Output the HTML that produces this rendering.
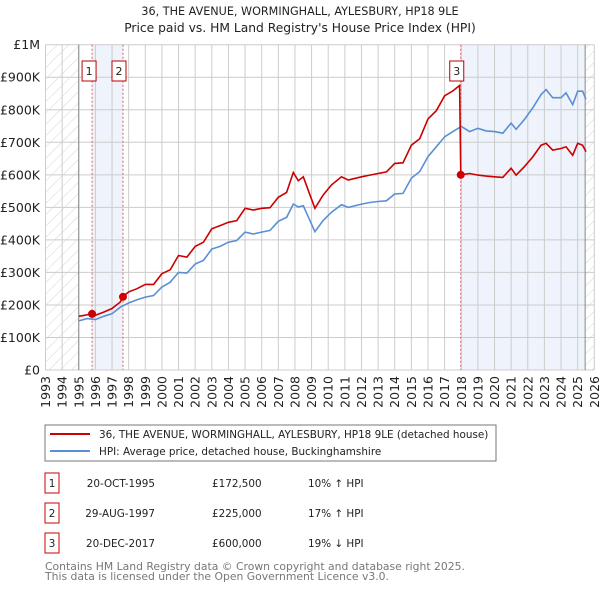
<!DOCTYPE html>
<html><head><meta charset="utf-8"><style>
body{margin:0;background:#fff;font-family:"Liberation Sans","DejaVu Sans",sans-serif;}
svg text{font-family:"DejaVu Sans","Liberation Sans",sans-serif;}
</style></head><body>
<svg id="c" width="600" height="590" xmlns="http://www.w3.org/2000/svg">
<defs><pattern id="h" width="8" height="8" patternUnits="userSpaceOnUse" patternTransform="rotate(45)"><line x1="0" y1="0" x2="0" y2="8" stroke="#d4d4d4" stroke-width="1"/></pattern></defs>
<text x="300" y="15" text-anchor="middle" font-size="11.2" fill="#222">36, THE AVENUE, WORMINGHALL, AYLESBURY, HP18 9LE</text>
<text x="300" y="32" text-anchor="middle" font-size="12.3" fill="#222">Price paid vs. HM Land Registry's House Price Index (HPI)</text>
<g id="plot"></g>
<rect x="45" y="425" width="451" height="36" fill="#fff" stroke="#777"/>
<line x1="50" y1="434" x2="90" y2="434" stroke="#cc0000" stroke-width="2"/>
<text x="99" y="438" font-size="10.4" fill="#222">36, THE AVENUE, WORMINGHALL, AYLESBURY, HP18 9LE (detached house)</text>
<line x1="50" y1="451" x2="90" y2="451" stroke="#5b8fd4" stroke-width="2"/>
<text x="99" y="455" font-size="10.4" fill="#222">HPI: Average price, detached house, Buckinghamshire</text>
<g id="tbl" font-size="10.4" fill="#222"></g>
<text x="45" y="570" font-size="10.8" fill="#777">Contains HM Land Registry data © Crown copyright and database right 2025.</text>
<text x="45" y="580" font-size="10.8" fill="#777">This data is licensed under the Open Government Licence v3.0.</text>
</svg>
<script>
const hpiYears=[1995,1995.5,1996,1996.5,1997,1997.5,1998,1998.5,1999,1999.5,2000,2000.5,2001,2001.5,2002,2002.5,2003,2003.5,2004,2004.5,2005,2005.5,2006,2006.5,2007,2007.5,2007.9,2008.2,2008.5,2009.2,2009.7,2010.2,2010.8,2011.2,2012,2012.5,2013,2013.5,2014,2014.5,2015,2015.5,2016,2016.5,2017,2017.5,2018,2018.5,2019,2019.5,2020,2020.5,2021,2021.3,2021.8,2022.3,2022.8,2023.1,2023.5,2024,2024.3,2024.7,2025,2025.3,2025.5];
const hpiValues=[151,158,155,165,173,193,206,216,224,229,255,270,300,298,326,337,372,380,393,398,424,418,424,429,457,469,510,501,505,425,460,485,508,500,510,515,518,520,541,543,590,610,656,686,717,733,749,733,743,735,733,728,759,740,770,806,847,862,837,837,852,816,857,857,832];
const priceYears=[1995,1995.8,1996,1996.5,1997,1997.5,1997.66,1998,1998.5,1999,1999.5,2000,2000.5,2001,2001.5,2002,2002.5,2003,2003.5,2004,2004.5,2005,2005.5,2006,2006.5,2007,2007.5,2007.9,2008.2,2008.5,2009.2,2009.7,2010.2,2010.8,2011.2,2012,2012.5,2013,2013.5,2014,2014.5,2015,2015.5,2016,2016.5,2017,2017.5,2017.9,2017.97,2018.5,2019,2019.5,2020,2020.5,2021,2021.3,2021.8,2022.3,2022.8,2023.1,2023.5,2024,2024.3,2024.7,2025,2025.3,2025.5];
const priceValues=[165,172.5,168,178,189,209,225,240,250,263,263,296,308,352,347,380,393,434,444,454,459,497,492,497,499,531,546,607,582,594,497,538,569,594,584,594,599,604,609,635,637,691,711,772,797,843,858,875,600,604,599,596,594,592,620,599,625,655,691,697,676,681,686,660,697,691,671];
const saleLabels=["1","2","3"];
const saleYears=[1995.8,1997.66,2017.97];
const saleValues=[172.5,225,600];
const saleDates=["20-OCT-1995","29-AUG-1997","20-DEC-2017"];
const salePrices=["£172,500","£225,000","£600,000"];
const saleDiffs=["10% ↑ HPI","17% ↑ HPI","19% ↓ HPI"];
const yTicks=[0,100,200,300,400,500,600,700,800,900,1000];
const yTickLabels=["£0","£100K","£200K","£300K","£400K","£500K","£600K","£700K","£800K","£900K","£1M"];
const xTicks=[];for(let y=1993;y<=2026;y++)xTicks.push(y);

const X0=45.5,PX=16.63,Y0=370,PY=0.3253;
const xs=y=>X0+(y-1993)*PX, ys=v=>Y0-v*PY;
const NS="http://www.w3.org/2000/svg";
const g=document.getElementById('plot');
function mk(t,a,p){const e=document.createElementNS(NS,t);for(const k in a)e.setAttribute(k,a[k]);(p||g).appendChild(e);return e;}
let e;
e=mk('rect',{x:xs(1995.8),y:ys(1000),width:xs(1997.66)-xs(1995.8),height:Y0-ys(1000),fill:'#eef3fc'});


e=mk('rect',{x:xs(2017.97),y:ys(1000),width:xs(2025.45)-xs(2017.97),height:Y0-ys(1000),fill:'#eef3fc'});


e=mk('rect',{x:xs(1993),y:ys(1000),width:xs(1995)-xs(1993),height:Y0-ys(1000),fill:'url(#h)'});


e=mk('rect',{x:xs(2025.45),y:ys(1000),width:xs(2026)-xs(2025.45),height:Y0-ys(1000),fill:'url(#h)'});


yTicks.forEach((v,i)=>{
 e=mk('line',{x1:xs(1993),x2:xs(2026),y1:ys(v),y2:ys(v),stroke:'#ccc'});
 
 
 e=mk('text',{x:40,y:ys(v)+4.5,'text-anchor':'end','font-size':12.5,fill:'#222'});e.textContent=yTickLabels[i];
 
 
});
xTicks.forEach(y=>{
 e=mk('line',{x1:xs(y),x2:xs(y),y1:ys(1000),y2:Y0,stroke:'#ccc'});
 
 
 e=mk('text',{x:0,y:0,'text-anchor':'end','font-size':12.5,fill:'#222',transform:`translate(${xs(y)+4.5},376) rotate(-90)`});e.textContent=y;
 
 
});
e=mk('line',{x1:xs(1995),x2:xs(1995),y1:ys(1000),y2:Y0,stroke:'#888'});


e=mk('line',{x1:xs(2025.45),x2:xs(2025.45),y1:ys(1000),y2:Y0,stroke:'#888'});


saleYears.forEach((y,i)=>{
 e=mk('line',{x1:xs(y),x2:xs(y),y1:ys(1000),y2:Y0,stroke:'#e06060','stroke-dasharray':'2,2'});
 
 
});
const path=(xa,va)=>xa.map((y,i)=>(i?'L':'M')+xs(y).toFixed(1)+','+ys(va[i]).toFixed(1)).join('');
e=mk('path',{d:path(hpiYears,hpiValues),fill:'none',stroke:'#5b8fd4','stroke-width':1.6});


e=mk('path',{d:path(priceYears,priceValues),fill:'none',stroke:'#cc0000','stroke-width':1.6});


saleYears.forEach((y,i)=>{
 e=mk('circle',{cx:xs(y),cy:ys(saleValues[i]),r:4,fill:'#cc0000'});
 
 
 const bx=i==0?xs(y)-10:xs(y)-11;
 e=mk('rect',{x:bx,y:61,width:14,height:20,fill:'#fff',stroke:'#b00'});
 
 
 e=mk('text',{x:bx+7,y:75,'text-anchor':'middle','font-size':11,fill:'#222'});e.textContent=saleLabels[i];
 
 
});
const t=document.getElementById('tbl');
saleLabels.forEach((l,i)=>{
 const cy=483+i*30;
 e=mk('rect',{x:45,y:cy-10,width:14,height:20,fill:'#fff',stroke:'#cc0000'},t);
 
 
 e=mk('text',{x:52,y:cy+4,'text-anchor':'middle'},t);e.textContent=l;
 
 
 e=mk('text',{x:155,y:cy+4,'text-anchor':'end'},t);e.textContent=saleDates[i];
 
 
 e=mk('text',{x:212,y:cy+4},t);e.textContent=salePrices[i];
 
 
 e=mk('text',{x:308,y:cy+4},t);e.textContent=saleDiffs[i];
 
 
});
</script>
</body></html>
